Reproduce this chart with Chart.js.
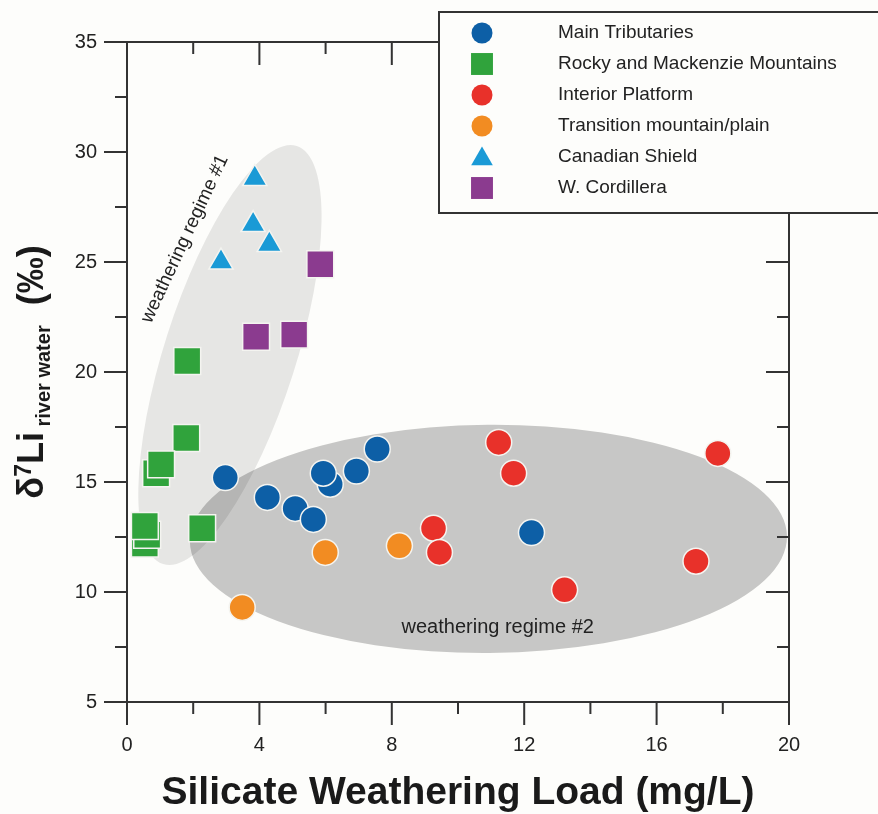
<!DOCTYPE html>
<html>
<head>
<meta charset="utf-8">
<script src="https://cdn.jsdelivr.net/npm/chart.js@4.4.1/dist/chart.umd.min.js"></script>
<style>
  html, body { margin: 0; padding: 0; background: #fdfdfb; }
  #wrap { width: 878px; height: 814px; }
</style>
</head>
<body>
<div id="wrap"><canvas id="myChart"></canvas></div>
<script>
// silicate weathering load (mg/L) vs d7Li of river water, per group
const mainTribX = [2.97, 4.24, 5.08, 5.63, 6.14, 5.93, 6.93, 7.56, 12.22];
const mainTribY = [15.2, 14.3, 13.8, 13.3, 14.9, 15.4, 15.5, 16.5, 12.7];

const rockyX = [1.82, 1.79, 0.88, 1.03, 0.54, 0.61, 0.54, 2.27];
const rockyY = [20.5, 17.0, 15.4, 15.8, 12.2, 12.6, 13.0, 12.9];

const interiorX = [11.23, 11.68, 9.26, 9.44, 17.85, 17.19, 13.22];
const interiorY = [16.8, 15.4, 12.9, 11.8, 16.3, 11.4, 10.1];

const transitionX = [5.99, 8.23, 3.48];
const transitionY = [11.8, 12.1, 9.3];

const shieldX = [3.86, 3.81, 4.30, 2.84];
const shieldY = [28.8, 26.7, 25.8, 25.0];

const cordilleraX = [5.84, 3.90, 5.05];
const cordilleraY = [24.9, 21.6, 21.7];

const groupNames = [
  'Main Tributaries',
  'Rocky and Mackenzie Mountains',
  'Interior Platform',
  'Transition mountain/plain',
  'Canadian Shield',
  'W. Cordillera'
];

const xTicks = [0, 4, 8, 12, 16, 20];
const yTicks = [5, 10, 15, 20, 25, 30, 35];

// regime ellipses: ends of the long axis in data units, short/long ratio
const regime1 = { x1: 1.09, y1: 11.27, x2: 5.13, y2: 30.27, ratio: 0.30 };
const regime2 = { x1: 1.90, y1: 12.30, x2: 19.94, y2: 12.53, ratio: 0.382 };

const FONT = "'Liberation Sans', Arial, Helvetica, sans-serif";
const AXIS = '#333333';

function toPoints(xs, ys) {
  return xs.map((x, i) => ({ x: x, y: ys[i] }));
}

function makeSet(i, xs, ys, color, style, radius) {
  return {
    label: groupNames[i],
    data: toPoints(xs, ys),
    backgroundColor: color,
    borderColor: '#f4f4f0',
    borderWidth: 1.5,
    pointStyle: style,
    pointRadius: radius,
    pointHoverRadius: radius
  };
}

function drawEllipse(ctx, chart, e, fill) {
  const xs = chart.scales.x, ys = chart.scales.y;
  const ax = xs.getPixelForValue(e.x1), ay = ys.getPixelForValue(e.y1);
  const bx = xs.getPixelForValue(e.x2), by = ys.getPixelForValue(e.y2);
  const cx = (ax + bx) / 2, cy = (ay + by) / 2;
  const a = Math.hypot(bx - ax, by - ay) / 2;
  const ang = Math.atan2(by - ay, bx - ax);
  ctx.beginPath();
  ctx.ellipse(cx, cy, a, a * e.ratio, ang, 0, Math.PI * 2);
  ctx.fillStyle = fill;
  ctx.fill();
}

const backdrop = {
  id: 'backdrop',
  beforeDraw(chart) {
    const ctx = chart.ctx;
    ctx.save();
    ctx.fillStyle = '#fdfdfb';
    ctx.fillRect(0, 0, chart.width, chart.height);
    ctx.restore();
  },
  beforeDatasetsDraw(chart) {
    const ctx = chart.ctx;
    const xs = chart.scales.x, ys = chart.scales.y;
    ctx.save();
    drawEllipse(ctx, chart, regime2, 'rgba(0,0,0,0.21)');
    drawEllipse(ctx, chart, regime1, 'rgba(0,0,0,0.09)');

    ctx.fillStyle = '#222';
    ctx.font = '20px ' + FONT;
    ctx.textAlign = 'center';
    ctx.textBaseline = 'middle';
    ctx.fillText('weathering regime #2', xs.getPixelForValue(11.2), ys.getPixelForValue(8.4));

    ctx.save();
    ctx.translate(xs.getPixelForValue(1.75), ys.getPixelForValue(26.05));
    ctx.rotate(-65 * Math.PI / 180);
    ctx.font = '19px ' + FONT;
    ctx.fillText('weathering regime #1', 0, 0);
    ctx.restore();

    // frame and ticks
    const {left, right, top, bottom} = chart.chartArea;
    ctx.strokeStyle = AXIS;
    ctx.lineWidth = 2;
    ctx.beginPath();
    ctx.rect(left, top, right - left, bottom - top);
    ctx.stroke();
    ctx.beginPath();
    for (let v = 5; v <= 35; v += 2.5) {
      const py = ys.getPixelForValue(v);
      const len = v % 5 === 0 ? 23 : 12;
      ctx.moveTo(left - len, py); ctx.lineTo(left, py);
      ctx.moveTo(right, py); ctx.lineTo(right - len, py);
    }
    for (let v = 0; v <= 20; v += 2) {
      const px = xs.getPixelForValue(v);
      const len = v % 4 === 0 ? 23 : 12;
      ctx.moveTo(px, bottom); ctx.lineTo(px, bottom + len);
      ctx.moveTo(px, top); ctx.lineTo(px, top + len);
    }
    ctx.stroke();
    ctx.restore();
  },
  afterDraw(chart) {
    const ctx = chart.ctx;
    ctx.save();

    // y axis title with super/subscripts
    const parts = [
      { t: '\u03b4', f: 'bold 36px ' + FONT, dy: 0 },
      { t: '7', f: 'bold 23px ' + FONT, dy: -12 },
      { t: 'Li', f: 'bold 36px ' + FONT, dy: 0 },
      { t: ' river water', f: 'bold 20px ' + FONT, dy: 7 },
      { t: '  (\u2030)', f: 'bold 36px ' + FONT, dy: 0 }
    ];
    let total = 0;
    parts.forEach(p => { ctx.font = p.f; p.w = ctx.measureText(p.t).width; total += p.w; });
    const midY = (chart.chartArea.top + chart.chartArea.bottom) / 2;
    ctx.translate(43, midY);
    ctx.rotate(-Math.PI / 2);
    ctx.fillStyle = '#1a1a1a';
    ctx.textBaseline = 'alphabetic';
    ctx.textAlign = 'left';
    let pos = -total / 2;
    parts.forEach(p => { ctx.font = p.f; ctx.fillText(p.t, pos, p.dy); pos += p.w; });
    ctx.restore();

    // legend box
    ctx.save();
    const box = { left: 439, top: 12, bottom: 213 };
    ctx.fillStyle = '#fdfdfb';
    ctx.fillRect(box.left, box.top, chart.width - box.left + 10, box.bottom - box.top);
    ctx.strokeStyle = AXIS;
    ctx.lineWidth = 2;
    ctx.strokeRect(box.left, box.top, chart.width - box.left + 10, box.bottom - box.top);
    const legendRadius = { circle: 10.5, rect: 15.5, triangle: 12.5 };
    chart.data.datasets.forEach((ds, i) => {
      const y = 33 + i * 31;
      ctx.fillStyle = ds.backgroundColor;
      Chart.helpers.drawPoint(ctx, {
        pointStyle: ds.pointStyle,
        rotation: 0,
        radius: legendRadius[ds.pointStyle],
        borderWidth: 0
      }, 482, ds.pointStyle === 'triangle' ? y + 2 : y);
      ctx.fillStyle = '#222';
      ctx.font = '19px ' + FONT;
      ctx.textAlign = 'left';
      ctx.textBaseline = 'middle';
      ctx.fillText(ds.label, 558, y);
    });
    ctx.restore();
  }
};

new Chart(document.getElementById('myChart'), {
  type: 'scatter',
  data: {
    datasets: [
      makeSet(0, mainTribX, mainTribY, '#0d5fa6', 'circle', 13),
      makeSet(1, rockyX, rockyY, '#30a33c', 'rect', 19),
      makeSet(2, interiorX, interiorY, '#e8312a', 'circle', 13),
      makeSet(3, transitionX, transitionY, '#f28c22', 'circle', 13),
      makeSet(4, shieldX, shieldY, '#1a9ad6', 'triangle', 14),
      makeSet(5, cordilleraX, cordilleraY, '#8b3b8f', 'rect', 19)
    ]
  },
  options: {
    responsive: true,
    maintainAspectRatio: false,
    animation: false,
    layout: { padding: { left: 0, top: 40, right: 89, bottom: 0 } },
    plugins: {
      legend: { display: false },
      tooltip: { enabled: false }
    },
    scales: {
      x: {
        type: 'linear',
        min: 0,
        max: 20,
        afterFit: s => { s.height = 112; },
        afterBuildTicks: s => { s.ticks = xTicks.map(v => ({ value: v })); },
        grid: { display: false, drawTicks: false },
        border: { display: false },
        ticks: { padding: 31, color: '#222', font: { family: FONT, size: 20 } },
        title: {
          display: true,
          text: 'Silicate Weathering Load (mg/L)',
          color: '#1a1a1a',
          padding: { top: 0, bottom: -3 },
          font: { family: FONT, size: 39, weight: 'bold' }
        }
      },
      y: {
        type: 'linear',
        min: 5,
        max: 35,
        afterFit: s => { s.width = 127; },
        afterBuildTicks: s => { s.ticks = yTicks.map(v => ({ value: v })); },
        grid: { display: false, drawTicks: false },
        border: { display: false },
        ticks: { padding: 30, color: '#222', font: { family: FONT, size: 20 } }
      }
    }
  },
  plugins: [backdrop]
});
</script>
</body>
</html>
